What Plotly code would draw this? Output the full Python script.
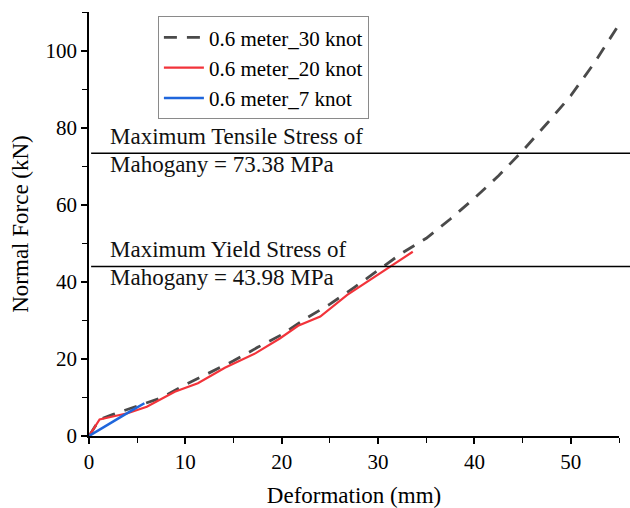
import plotly.graph_objects as go

# ---- data ----
x_30 = [0, 1.1, 2.5, 5, 7.5, 10, 12.5, 15, 17.5, 20, 22.5, 25, 27.5, 30, 32.5, 35, 37.5, 40, 42.5, 45, 47.5, 50, 52.5, 54.8]
y_30 = [0, 4.3, 5.6, 7.8, 9.9, 13.3, 16.3, 19.5, 23.0, 26.3, 30.5, 34.2, 38.5, 43.0, 47.5, 51.3, 56.3, 61.7, 67.5, 74.0, 81.0, 88.3, 97.0, 106.0]

x_20 = [0, 1.1, 2.7, 4.0, 6.0, 8.9, 11.3, 14.1, 17.3, 19.8, 21.7, 24.0, 26.8, 29.2, 31.3, 33.6]
y_20 = [0, 4.3, 5.2, 5.9, 7.6, 11.5, 13.7, 17.7, 21.5, 25.3, 28.6, 31.0, 36.6, 40.5, 44.0, 47.8]

x_7 = [0, 1.1, 2.2, 3.4, 4.5, 5.75]
y_7 = [0, 1.7, 3.4, 5.1, 6.7, 8.5]

series_names = ["0.6 meter_30 knot", "0.6 meter_20 knot", "0.6 meter_7 knot"]

limit_values = [73.38, 43.98]
limit_top_text = ["Maximum Tensile Stress of", "Maximum Yield Stress of"]
limit_bottom_text = ["Mahogany = 73.38 MPa", "Mahogany = 43.98 MPa"]

x_ticks = [0, 10, 20, 30, 40, 50]
y_ticks = [0, 20, 40, 60, 80, 100]

FONT = "Liberation Serif"

fig = go.Figure()
fig.add_trace(go.Scatter(x=x_30, y=y_30, mode="lines", name=series_names[0],
                         line=dict(color="#4a4a4a", width=2.8, dash="13px,10px")))
fig.add_trace(go.Scatter(x=x_20, y=y_20, mode="lines", name=series_names[1],
                         line=dict(color="#f2333a", width=2.2)))
fig.add_trace(go.Scatter(x=x_7, y=y_7, mode="lines", name=series_names[2],
                         line=dict(color="#1f66dc", width=2.5)))

for v, t1, t2 in zip(limit_values, limit_top_text, limit_bottom_text):
    fig.add_shape(type="line", xref="paper", yref="y", x0=0.004, x1=1.03, y0=v, y1=v,
                  line=dict(color="black", width=1.5))
    fig.add_annotation(xref="paper", yref="y", x=0.036, y=v, text=t1, showarrow=False,
                       xanchor="left", yanchor="bottom", yshift=2,
                       font=dict(family=FONT, size=23, color="#111"))
    fig.add_annotation(xref="paper", yref="y", x=0.036, y=v, text=t2, showarrow=False,
                       xanchor="left", yanchor="top", yshift=3,
                       font=dict(family=FONT, size=23, color="#111"))

axis_common = dict(showline=True, linecolor="black", linewidth=1.6, ticks="outside",
                   ticklen=6, tickwidth=1.6, tickcolor="black", showgrid=False,
                   zeroline=False, mirror=False,
                   tickfont=dict(family=FONT, size=21, color="black"),
                   minor=dict(ticks="outside", ticklen=5, tickwidth=1.4, tickcolor="black"))

fig.update_xaxes(range=[0, 55], tickvals=x_ticks, minor_dtick=5,
                 title=dict(text="Deformation (mm)", font=dict(family=FONT, size=23, color="black"), standoff=14),
                 **axis_common)
fig.update_yaxes(range=[0, 110], tickvals=y_ticks, minor_dtick=10,
                 title=dict(text="Normal Force (kN)", font=dict(family=FONT, size=23, color="black"), standoff=10),
                 **axis_common)

fig.update_layout(
    width=630, height=508,
    margin=dict(l=89, r=11, t=12, b=72, autoexpand=False),
    plot_bgcolor="white", paper_bgcolor="white",
    font=dict(family=FONT, size=21, color="black"),
    legend=dict(x=0.13, y=0.99, xanchor="left", yanchor="top",
                bgcolor="white", bordercolor="#8a8a8a", borderwidth=1,
                font=dict(family=FONT, size=21, color="black"),
                tracegroupgap=0, itemwidth=40),
    showlegend=True,
)

fig.write_html("out.html")
